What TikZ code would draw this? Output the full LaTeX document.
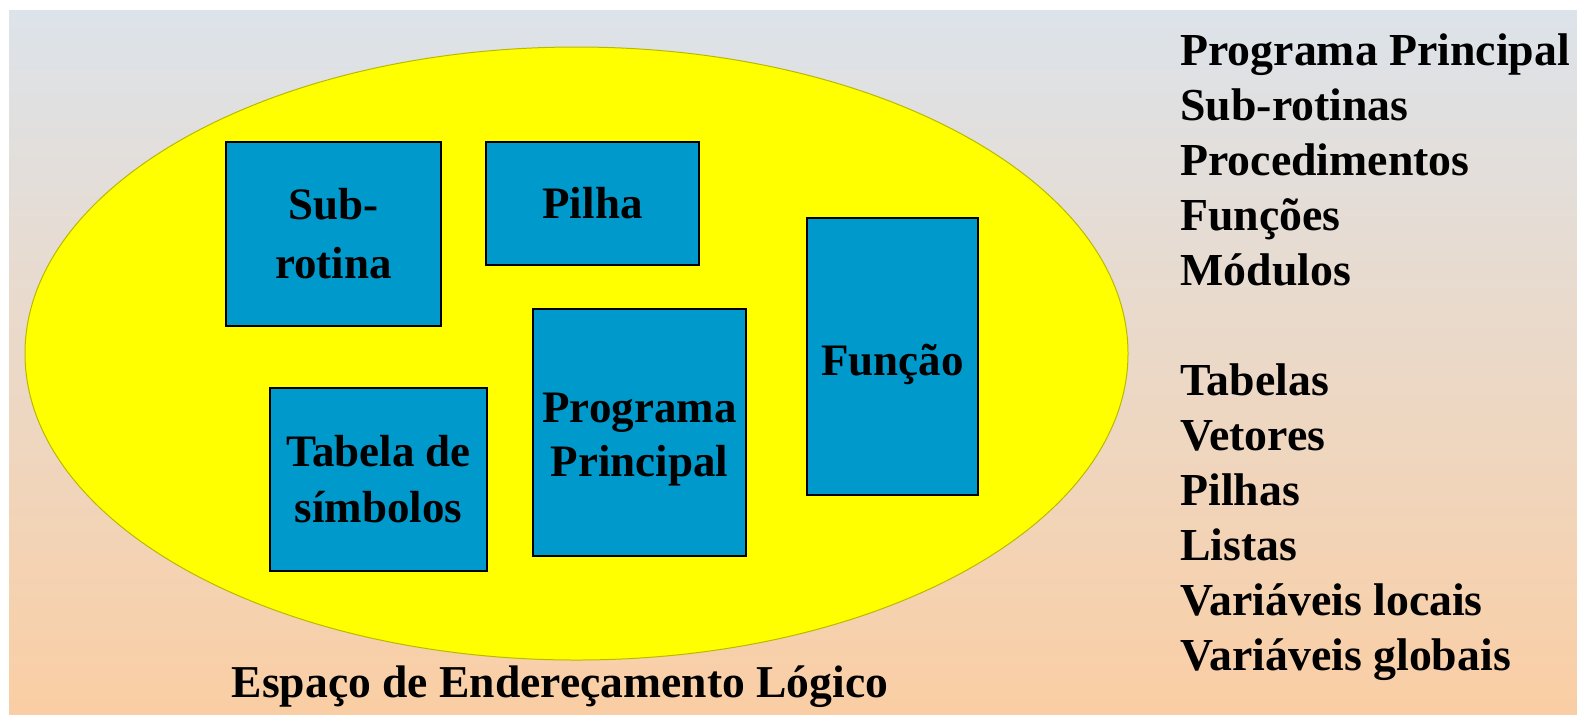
\documentclass[tikz,border=0pt]{standalone}
\usepackage{fontspec}
\setmainfont{Liberation Serif}
\usetikzlibrary{shapes.geometric}
\definecolor{bgtop}{RGB}{220,227,234}
\definecolor{bgbot}{RGB}{250,206,164}
\definecolor{boxblue}{RGB}{0,153,204}
\definecolor{ellyellow}{RGB}{255,255,0}
\definecolor{elledge}{RGB}{185,185,0}
\begin{document}
\begin{tikzpicture}[x=0.5pt,y=-0.5pt,
  blk/.style={draw=black, line width=1pt, fill=boxblue, inner sep=0pt},
  lbl/.style={inner sep=0pt, align=center, font=\fontsize{22.5}{27}\selectfont\bfseries},
  item/.style={inner sep=0pt, anchor=base west, font=\fontsize{22.9}{27.5}\selectfont\bfseries}]
\useasboundingbox (0,0) rectangle (1577,714);
\fill[white] (0,0) rectangle (1577,714);
\fill[top color=bgtop, bottom color=bgbot] (9,10) rectangle (1577,714);
\node (space) [ellipse, draw=elledge, line width=0.5pt, fill=ellyellow, inner sep=0pt,
  minimum width=551.5pt, minimum height=306.5pt] at (576.5,353.5) {};
% boxes
\node (sub) [blk, minimum width=107.5pt, minimum height=92pt] at (333.5,234) {};
\node (pilha) [blk, minimum width=106.5pt, minimum height=61.5pt] at (592.5,203.5) {};
\node (tab) [blk, minimum width=108.5pt, minimum height=91.5pt] at (378.5,479.5) {};
\node (prog) [blk, minimum width=106.5pt, minimum height=123.5pt] at (639.5,432.5) {};
\node (func) [blk, minimum width=85.5pt, minimum height=138.5pt] at (892.5,356.5) {};
% box texts
\node (subT) [lbl] at (sub.center) {Sub-\\[2.5pt]rotina};
\node (pilhaT) [lbl] at (pilha.center) {Pilha};
\node (tabT) [lbl] at (tab.center) {Tabela de\\[1pt]símbolos};
\node (progT) [lbl, yshift=-3.5pt] at (prog.center) {Programa\\Principal};
\node (funcT) [lbl, yshift=-4.2pt] at (func.center) {Função};
% caption
\node (cap) [inner sep=0pt, anchor=base, font=\fontsize{22.8}{27}\selectfont\bfseries] at (560,697) {Espaço de Endereçamento Lógico};
% list
\node (i1) [item] at (1180,65) {Programa Principal};
\node (i2) [item] at (1180,120) {Sub-rotinas};
\node (i3) [item] at (1180,175) {Procedimentos};
\node (i4) [item] at (1180,230) {Funções};
\node (i5) [item] at (1180,285) {Módulos};
\node (i6) [item] at (1180,395) {Tabelas};
\node (i7) [item] at (1180,450) {Vetores};
\node (i8) [item] at (1180,505) {Pilhas};
\node (i9) [item] at (1180,560) {Listas};
\node (i10) [item] at (1180,615) {Variáveis locais};
\node (i11) [item] at (1180,670) {Variáveis globais};
\end{tikzpicture}
\end{document}
